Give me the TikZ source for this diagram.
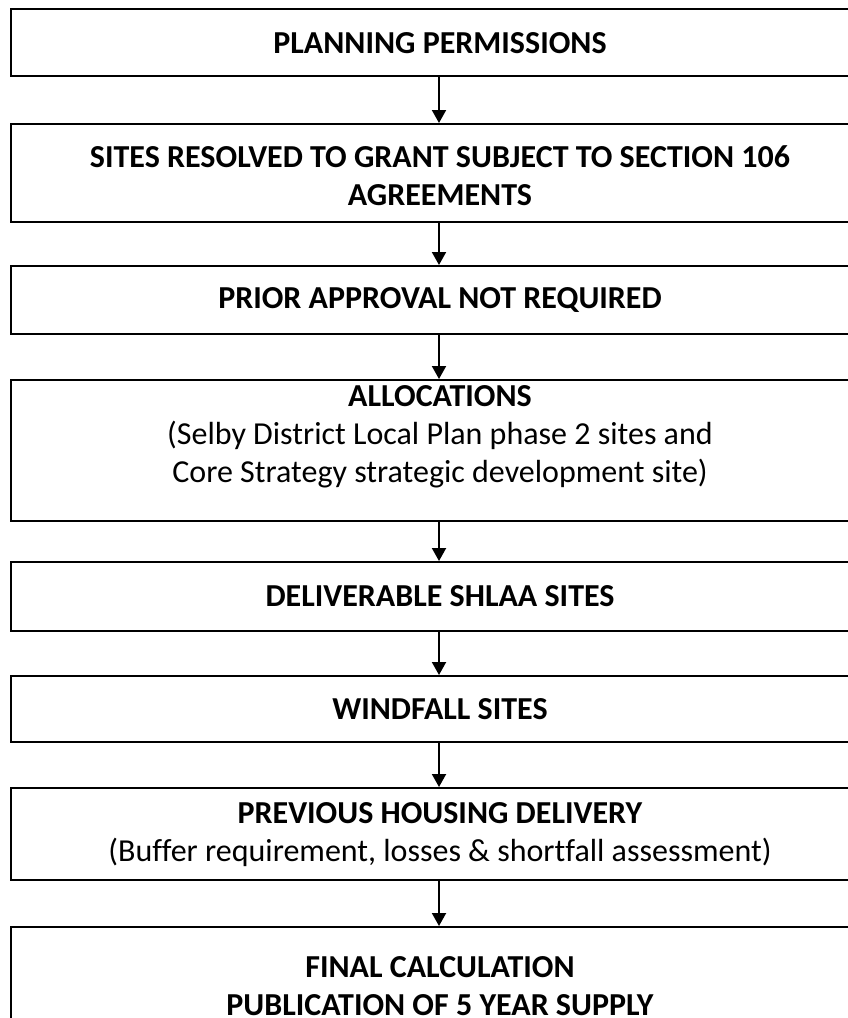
\documentclass[tikz,border=0pt]{standalone}
\usepackage{fontspec}
\setmainfont{Carlito}[Ligatures=NoCommon]
\usetikzlibrary{arrows.meta}
\begin{document}
\begin{tikzpicture}[x=1pt,y=-1pt,
  box/.style={draw=black,line width=2pt,minimum width=858pt,inner sep=0pt,fill=white},
  txt/.style={align=center,font=\fontsize{32}{38}\selectfont,inner sep=0pt},
  conn/.style={line width=2pt,-{Triangle[width=14pt,length=13pt]}}]
\useasboundingbox (0,0) rectangle (848,1018);
\clip (0,0) rectangle (848,1018);
\fill[white] (0,0) rectangle (848,1018);
\node[box,minimum height=67pt] (b1) at (440,42.5) {};
\node[box,minimum height=98pt] (b2) at (440,173) {};
\node[box,minimum height=68pt] (b3) at (440,300) {};
\node[box,minimum height=141pt] (b4) at (440,450.5) {};
\node[box,minimum height=69pt] (b5) at (440,596.5) {};
\node[box,minimum height=66pt] (b6) at (440,709) {};
\node[box,minimum height=92pt] (b7) at (440,834) {};
\node[box,minimum height=140pt] (b8) at (440,997) {};
\node[txt] (t1) at (440,43) {\textbf{PLANNING PERMISSIONS}};
\node[txt] (t2) at (440,176) {\textbf{SITES RESOLVED TO GRANT SUBJECT TO SECTION 106}\\\textbf{AGREEMENTS}};
\node[txt] (t3) at (440,300) {\textbf{PRIOR APPROVAL NOT REQUIRED}};
\node[txt] (t4) at (440,437) {\textbf{ALLOCATIONS}\\(Selby District Local Plan phase 2 sites and\\Core Strategy strategic development site)};
\node[txt] (t5) at (440,596) {\textbf{DELIVERABLE SHLAA SITES}};
\node[txt] (t6) at (440,709) {\textbf{WINDFALL SITES}};
\node[txt] (t7) at (440,835) {\textbf{PREVIOUS HOUSING DELIVERY}\\(Buffer requirement, losses \& shortfall assessment)};
\node[txt] (t8) at (440,986) {\textbf{FINAL CALCULATION}\\\textbf{PUBLICATION OF 5 YEAR SUPPLY}};
\draw[conn] ([xshift=-1pt]b1.south) -- ([xshift=-1pt]b2.north);
\draw[conn] ([xshift=-1pt]b2.south) -- ([xshift=-1pt]b3.north);
\draw[conn] ([xshift=-1pt]b3.south) -- ([xshift=-1pt]b4.north);
\draw[conn] ([xshift=-1pt]b4.south) -- ([xshift=-1pt]b5.north);
\draw[conn] ([xshift=-1pt]b5.south) -- ([xshift=-1pt]b6.north);
\draw[conn] ([xshift=-1pt]b6.south) -- ([xshift=-1pt]b7.north);
\draw[conn] ([xshift=-1pt]b7.south) -- ([xshift=-1pt]b8.north);
\end{tikzpicture}
\end{document}
